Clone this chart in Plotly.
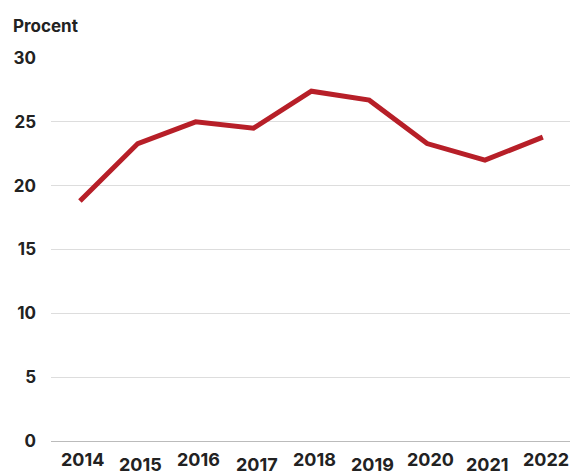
import plotly.graph_objects as go

years = [2014, 2015, 2016, 2017, 2018, 2019, 2020, 2021, 2022]
values = [18.8, 23.3, 25.0, 24.5, 27.4, 26.7, 23.3, 22.0, 23.8]
y_ticks = [0, 5, 10, 15, 20, 25, 30]

FONT = "Inter"
TXT = "#222222"

fig = go.Figure()
fig.add_trace(go.Scatter(
    x=years, y=values, mode="lines",
    line=dict(color="#b71f28", width=5),
    hoverinfo="skip", showlegend=False,
))

for i, yr in enumerate(years):
    fig.add_annotation(
        x=yr, y=0, xref="x", yref="y",
        text=str(yr), showarrow=False,
        yanchor="top", xanchor="center", borderpad=0,
        yshift=-7 if i % 2 == 0 else -12, xshift=3,
        font=dict(family=FONT, size=18, color=TXT, weight=700),
    )

fig.add_annotation(
    x=0, y=1, xref="paper", yref="paper", xanchor="left", yanchor="bottom",
    text="Procent", showarrow=False, xshift=-40, yshift=20,
    font=dict(family=FONT, size=17, color=TXT, weight=700),
)

fig.update_layout(
    width=572, height=476,
    margin=dict(l=51, r=2, t=58, b=35),
    plot_bgcolor="white", paper_bgcolor="white",
    xaxis=dict(range=[2013.5, 2022.47], showticklabels=False, showgrid=False,
               zeroline=False, showline=False, ticks="", automargin=False),
    yaxis=dict(range=[0, 30], tickvals=y_ticks, showgrid=True, gridcolor="#dddddd",
               gridwidth=1, zeroline=True, zerolinecolor="#bbbbbb", zerolinewidth=1,
               ticks="", ticklabelstandoff=14, automargin=False,
               tickfont=dict(family=FONT, size=17, color=TXT, weight=700)),
)

fig.write_html("out.html", config={"displayModeBar": False},
               post_script="document.body.style.margin='0';document.body.style.overflow='hidden';")
